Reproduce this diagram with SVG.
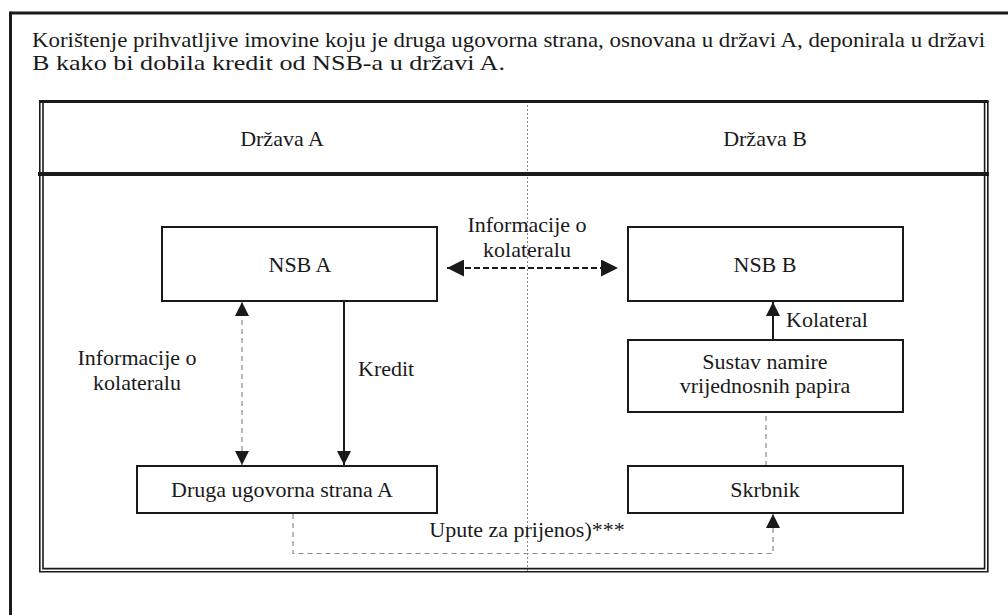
<svg xmlns="http://www.w3.org/2000/svg" width="1008" height="615" viewBox="0 0 1008 615" font-family="'Liberation Serif', 'Times New Roman', 'DejaVu Serif', serif">
<defs>
<style>
text{font-family:"Liberation Serif","Times New Roman","DejaVu Serif",serif;font-size:22px;fill:#1a1a1a}
.c{text-anchor:middle}
.box{fill:#fff;stroke:#1a1a1a;stroke-width:2}
.frame{fill:none;stroke:#1a1a1a}
.dash{fill:none;stroke:#8a8a8a;stroke-width:1.2;stroke-dasharray:5 4}
.bdash{fill:none;stroke:#1a1a1a;stroke-width:2;stroke-dasharray:6 3}
.solid{fill:none;stroke:#1a1a1a;stroke-width:2}
</style>
<marker id="ah" viewBox="0 0 10 10" refX="10" refY="5" markerWidth="14" markerHeight="16" markerUnits="userSpaceOnUse" orient="auto-start-reverse"><path d="M0,0 L10,5 L0,10 Z" fill="#1a1a1a"/></marker>
<marker id="ahb" viewBox="0 0 10 10" refX="10" refY="5" markerWidth="20" markerHeight="17" markerUnits="userSpaceOnUse" orient="auto-start-reverse"><path d="M0,0 L10,5 L0,10 Z" fill="#1a1a1a"/></marker>
</defs>
<rect width="1008" height="615" fill="#fff"/>
<g id="outer-frame">
<line class="frame" x1="10.5" y1="13" x2="1008" y2="13" stroke-width="3"/>
<line class="frame" x1="10.5" y1="11.5" x2="10.5" y2="615" stroke-width="3"/>
</g>
<g id="title">
<text x="32" y="47" font-size="19" textLength="953" lengthAdjust="spacingAndGlyphs">Korištenje prihvatljive imovine koju je druga ugovorna strana, osnovana u državi A, deponirala u državi</text>
<text x="32" y="70" font-size="19" textLength="473" lengthAdjust="spacingAndGlyphs">B kako bi dobila kredit od NSB-a u državi A.</text>
</g>
<g id="inner-frame">
<line x1="527.5" y1="101" x2="527.5" y2="571" stroke="#8a8a8a" stroke-width="1" stroke-dasharray="2 2"/>
<path class="frame" stroke-width="1.6" d="M39.8,101 V571.8 H987.8 V101"/>
<path class="frame" stroke-width="1.6" d="M43,101 V568.6 H984.6 V101"/>
<line class="frame" x1="39" y1="101.5" x2="988.6" y2="101.5" stroke-width="3"/>
<line class="frame" x1="38" y1="174" x2="989" y2="174" stroke-width="4"/>
<text class="c" x="282" y="146">Država A</text>
<text class="c" x="765" y="146">Država B</text>
</g>
<g id="connectors">
<line class="bdash" x1="447" y1="268" x2="618" y2="268" marker-start="url(#ahb)" marker-end="url(#ahb)"/>
<line class="dash" x1="242" y1="302" x2="242" y2="465" marker-start="url(#ah)" marker-end="url(#ah)"/>
<line class="solid" x1="344" y1="301" x2="344" y2="465" marker-end="url(#ah)"/>
<line class="solid" x1="773" y1="340" x2="773" y2="302" marker-end="url(#ah)"/>
<line class="dash" x1="766" y1="466" x2="766" y2="413"/>
<path class="dash" d="M293,514 V553.5 H773 V514" marker-end="url(#ah)"/>
<text class="c" x="527" y="232">Informacije o</text>
<text class="c" x="527" y="257">kolateralu</text>
<text class="c" x="137" y="365">Informacije o</text>
<text class="c" x="137" y="390">kolateralu</text>
<text x="358" y="376">Kredit</text>
<text x="786" y="327">Kolateral</text>
<text class="c" x="527" y="537">Upute za prijenos)***</text>
</g>
<g id="nsb-a"><rect class="box" x="162" y="227" width="275" height="74"/><text class="c" x="300" y="272">NSB A</text></g>
<g id="nsb-b"><rect class="box" x="628" y="227" width="275" height="74"/><text class="c" x="765" y="272">NSB B</text></g>
<g id="sustav"><rect class="box" x="628" y="340" width="275" height="72"/><text class="c" x="765" y="369">Sustav namire</text><text class="c" x="765" y="393">vrijednosnih papira</text></g>
<g id="skrbnik"><rect class="box" x="628" y="466" width="275" height="47"/><text class="c" x="765" y="497">Skrbnik</text></g>
<g id="druga"><rect class="box" x="137" y="466" width="300" height="47"/><text class="c" x="282" y="497">Druga ugovorna strana A</text></g>
</svg>
